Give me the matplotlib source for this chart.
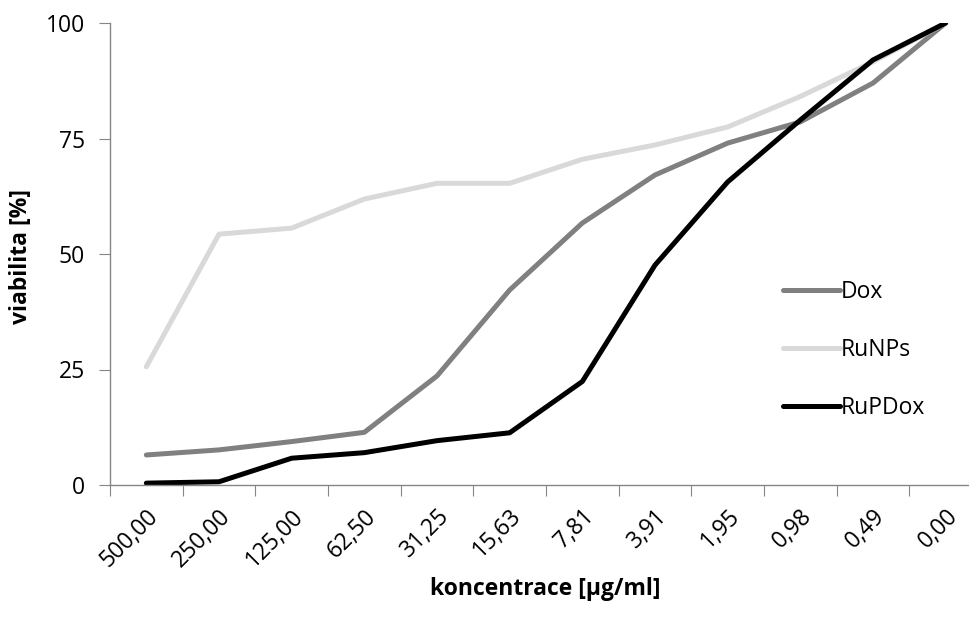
import numpy as np
import matplotlib
matplotlib.use("Agg")
import matplotlib.pyplot as plt

plt.rcParams['font.family'] = ['Open Sans', 'DejaVu Sans']

# concentration categories (as shown on the axis)
conc = ['500,00', '250,00', '125,00', '62,50', '31,25', '15,63',
        '7,81', '3,91', '1,95', '0,98', '0,49', '0,00']

dox = [6.5, 7.6, 9.4, 11.4, 23.6, 42.2, 56.7, 67.1, 74.0, 78.6, 87.0, 100.0]
runps = [25.6, 54.3, 55.6, 61.9, 65.3, 65.3, 70.5, 73.6, 77.5, 84.1, 91.6, 100.0]
rupdox = [0.4, 0.7, 5.8, 7.0, 9.6, 11.3, 22.4, 47.6, 65.6, 79.0, 92.0, 100.0]

fs = 16.5

fig = plt.figure(figsize=(9.7, 6.17), dpi=100)
ax = fig.add_axes([110/970, 1-485/617, 872/970, 462/617])

x = np.arange(len(conc))
ax.plot(x, dox, color='#808080', lw=3.6, label='Dox', solid_capstyle='round')
ax.plot(x, runps, color='#d9d9d9', lw=3.6, label='RuNPs', solid_capstyle='round')
ax.plot(x, rupdox, color='#000000', lw=3.6, label='RuPDox', solid_capstyle='round')

ax.set_xlim(-0.5, len(conc) - 0.5)
ax.set_ylim(0, 100)
ax.set_yticks([0, 25, 50, 75, 100])
ax.set_xticks(np.arange(len(conc) + 1) - 0.5, minor=False)
ax.set_xticklabels([])
ax.set_xticks(x, minor=True)
ax.set_xticklabels(conc, minor=True, rotation=45, ha='right', rotation_mode='anchor')

for s in ['top', 'right']:
    ax.spines[s].set_visible(False)
for s in ['left', 'bottom']:
    ax.spines[s].set_color('#868686')
    ax.spines[s].set_linewidth(1.0)

ax.tick_params(axis='x', which='major', length=8, color='#868686', direction='out')
ax.tick_params(axis='x', which='minor', length=0, pad=14, labelsize=fs)
ax.tick_params(axis='y', length=8, color='#868686', direction='out', pad=10, labelsize=fs)

ax.set_xlabel('koncentrace [µg/ml]', fontsize=fs, fontweight='bold')
ax.set_ylabel('viabilita [%]', fontsize=fs, fontweight='bold')
ax.xaxis.set_label_coords((545 - 110) / 872, -(577 - 485) / 462)
ax.yaxis.set_label_coords(-(110 - 33) / 872, (485 - 256) / 462)

leg = ax.legend(loc='center left', bbox_to_anchor=((762 - 110) / 872, (485 - 350) / 462),
                frameon=False, fontsize=fs, handlelength=2.5, handletextpad=0.05,
                labelspacing=1.5)

fig.savefig('out.png', dpi=100)
